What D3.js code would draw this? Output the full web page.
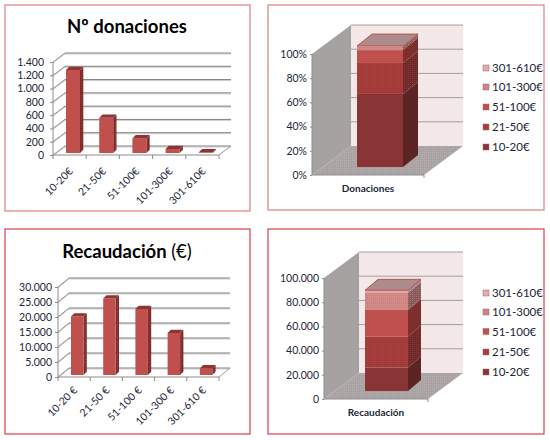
<!DOCTYPE html>
<html lang="en">
<head>
<meta charset="UTF-8">
<title>Donaciones y recaudación</title>
<script src="https://cdnjs.cloudflare.com/ajax/libs/d3/7.8.5/d3.min.js"></script>
<style>
  html, body { margin: 0; padding: 0; background: #fff; }
  svg { display: block; font-family: Lato, "Noto Sans", sans-serif; }
  text { fill: #1b2738; }
</style>
</head>
<body>
<div id="chart"></div>
<script>
// datos
const rangos = ["10-20€", "21-50€", "51-100€", "101-300€", "301-610€"];
const rangosEsp = ["10-20 €", "21-50 €", "51-100 €", "101-300 €", "301-610 €"];
const numDonaciones = [1250, 530, 220, 60, 10];
const recaudacion = [19500, 25500, 22000, 14000, 2200];
const ticksDonaciones = [0, 200, 400, 600, 800, 1000, 1200, 1400];
const ticksRecaudacion = [0, 5000, 10000, 15000, 20000, 25000, 30000];
const ticksPct = [0, 0.2, 0.4, 0.6, 0.8, 1];
const ticksTotal = [0, 20000, 40000, 60000, 80000, 100000];

const esLocale = d3.formatLocale({ decimal: ",", thousands: ".", grouping: [3], currency: ["", "€"] });
const fmtNum = esLocale.format(",d");
const fmtPct = d3.format(".0%");

const svg = d3.select("#chart").append("svg").attr("width", 550).attr("height", 440);

// texturas punteadas de las caras
const defs = svg.append("defs");
function dots(id, bg, dot) {
  const p = defs.append("pattern").attr("id", id).attr("width", 2).attr("height", 2)
    .attr("patternUnits", "userSpaceOnUse");
  p.append("rect").attr("width", 2).attr("height", 2).attr("fill", bg);
  p.append("rect").attr("width", 1).attr("height", 1).attr("fill", dot);
}
dots("dotSide", "#8a3331", "#6b2725");
dots("dotFloor", "#a8a3a3", "#b9adad");
dots("dot2", "#a83e3b", "#983634");
dots("dot2s", "#6e2a29", "#853534");
dots("dot4", "#d08583", "#d6938f");
dots("dot4s", "#8a5a5a", "#9a7676");
dots("wall", "#f3e7e7", "#f5ebeb");

const pts = a => a.map(p => p.join(",")).join(" ");

function marco(x, y, w, h, color) {
  svg.append("rect").attr("x", x).attr("y", y).attr("width", w).attr("height", h)
    .attr("fill", "#fff").attr("stroke", color).attr("stroke-width", 1.2);
}

// rejilla 3d comun: pared izquierda, suelo y lineas
function caja(g, o, y, ticks, relleno) {
  const { x0, x1, dx, dy } = o;
  const y0 = y.range()[0], yT = y.range()[1];
  if (relleno) {
    g.append("polygon").attr("fill", "#a6a2a2")
      .attr("points", pts([[x0, y0], [x0, yT], [x0 + dx, yT - dy], [x0 + dx, y0 - dy]]));
    g.append("polygon").attr("fill", "url(#wall)")
      .attr("points", pts([[x0 + dx, y0 - dy], [x0 + dx, yT - dy], [x1 + dx, yT - dy], [x1 + dx, y0 - dy]]));
    g.append("polygon").attr("fill", "url(#dotFloor)")
      .attr("points", pts([[x0, y0], [x0 + dx, y0 - dy], [x1 + dx, y0 - dy], [x1, y0]]));
  }
  ticks.forEach(t => {
    const yy = y(t);
    if (relleno && t === 0) return;
    if (!relleno) {
      g.append("line").attr("x1", x0).attr("y1", yy + 1).attr("x2", x0 + dx).attr("y2", yy - dy + 1)
        .attr("stroke", "#d4d4d4");
      g.append("line").attr("x1", x0 + dx).attr("y1", yy - dy + 1).attr("x2", x1 + dx).attr("y2", yy - dy + 1)
        .attr("stroke", "#cfcfcf");
      g.append("line").attr("x1", x0).attr("y1", yy).attr("x2", x0 + dx).attr("y2", yy - dy)
        .attr("stroke", "#8c8c8c");
    }
    g.append("line").attr("x1", x0 + dx).attr("y1", yy - dy).attr("x2", x1 + dx).attr("y2", yy - dy)
      .attr("stroke", relleno ? "#a0a0a0" : "#7f7f7f");
  });
  if (!relleno) {
    g.append("line").attr("x1", x1).attr("y1", y0).attr("x2", x1 + dx).attr("y2", y0 - dy).attr("stroke", "#9a9a9a");
  }
  g.append("line").attr("x1", x0).attr("y1", y0).attr("x2", x1).attr("y2", y0).attr("stroke", "#8c8c8c");
  g.append("line").attr("x1", x0).attr("y1", y0).attr("x2", x0).attr("y2", yT).attr("stroke", "#8c8c8c");
}

function ejeY(g, o, y, ticks, fmt) {
  const ax = g.append("g").attr("transform", `translate(${o.x0},0)`)
    .call(d3.axisLeft(y).tickValues(ticks).tickFormat(fmt).tickSize(o.tick).tickPadding(o.pad));
  ax.select(".domain").remove();
  ax.selectAll("line").attr("stroke", "#8c8c8c");
  ax.selectAll("text").attr("font-size", o.font).style("fill", "#1b2738").attr("font-family", "Lato");
}

function prisma(g, x, w, yTop, yBot, ddx, ddy, cf, cs, ct, stroke) {
  g.append("polygon").attr("fill", cs)
    .attr("points", pts([[x + w, yBot], [x + w, yTop], [x + w + ddx, yTop - ddy], [x + w + ddx, yBot - ddy]]));
  g.append("rect").attr("x", x).attr("y", yTop).attr("width", w).attr("height", yBot - yTop).attr("fill", cf);
  if (ct) {
    g.append("polygon").attr("fill", ct).attr("stroke", stroke || "none").attr("stroke-width", 0.8)
      .attr("points", pts([[x, yTop], [x + ddx, yTop - ddy], [x + w + ddx, yTop - ddy], [x + w, yTop]]));
  }
}

// barras 3d sueltas
function barras3d(o) {
  marco(o.box[0], o.box[1], o.box[2], o.box[3], o.borde);
  const g = svg.append("g");
  const y = d3.scaleLinear().domain([0, d3.max(o.ticks)]).range([o.y0, o.yT]);
  const x = d3.scaleBand().domain(o.cats).range([o.x0, o.x1]);
  caja(g, o, y, o.ticks, false);

  o.values.forEach((v, i) => {
    const bx = x(o.cats[i]) + o.barOff;
    const yb = o.y0 - o.barLift;
    prisma(g, bx, o.barW, yb - (o.y0 - y(v)), yb, o.bd, o.bd, "#c0504d", "url(#dotSide)", "#8e3533");
  });

  // marcas del eje x en los limites de cada categoria
  o.cats.concat([null]).forEach((c, i) => {
    const xx = c === null ? o.x1 : x(c);
    g.append("line").attr("x1", xx).attr("x2", xx).attr("y1", o.y0).attr("y2", o.y0 + 4).attr("stroke", "#8c8c8c");
  });
  o.cats.forEach(c => {
    g.append("text").attr("text-anchor", "end").attr("font-size", o.font)
      .attr("transform", `translate(${x(c) + x.bandwidth() / 2 + 4},${o.y0 + o.labelDy}) rotate(-45)`)
      .text(c);
  });
  ejeY(g, o, y, o.ticks, fmtNum);

  const t = g.append("text").attr("x", o.titleX).attr("y", o.titleY).attr("text-anchor", "middle")
    .attr("font-size", o.titleSize).attr("font-weight", 700).style("fill", "#000");
  t.append("tspan").text(o.title);
  if (o.titleExtra) t.append("tspan").attr("font-weight", 400).text(o.titleExtra);
}

// columna apilada 3d
const estilos = [
  { f: "#8a3535", s: "#5c2423" },
  { f: "url(#dot2)", s: "url(#dot2s)" },
  { f: "#c0504d", s: "#7e2f2d" },
  { f: "url(#dot4)", s: "url(#dot4s)" },
  { f: "#e2aaa8", s: "#a98a8a" }
];
const swatch = ["#8a3535", "#a83e3b", "#c0504d", "#cf8482", "#e2aaa8"];

function apilada(o) {
  marco(o.box[0], o.box[1], o.box[2], o.box[3], o.borde);
  const g = svg.append("g");
  const y = d3.scaleLinear().domain([0, d3.max(o.ticks)]).range([o.y0, o.yT]);
  const x = d3.scaleBand().domain([o.cat]).range([o.x0, o.x1]);
  caja(g, o, y, o.ticks, true);

  const fila = {};
  rangos.forEach((r, i) => { fila[r] = o.values[i]; });
  const stack = d3.stack().keys(rangos);
  if (o.expand) stack.offset(d3.stackOffsetExpand);
  const capas = stack([fila]);

  const bx = x(o.cat) + o.barOff;
  capas.forEach((c, i) => {
    const yb = y(c[0][0]) - o.barLift, yt = y(c[0][1]) - o.barLift;
    const ultimo = i === capas.length - 1;
    prisma(g, bx, o.barW, yt, yb, o.bdx, o.bdy, estilos[i].f, estilos[i].s, ultimo ? "#ab8b8b" : null, "#b5403d");
  });

  ejeY(g, o, y, o.ticks, o.expand ? fmtPct : fmtNum);
  g.append("line").attr("x1", o.x1).attr("x2", o.x1).attr("y1", o.y0).attr("y2", o.y0 + 3).attr("stroke", "#8c8c8c");

  g.append("text").attr("x", (o.x0 + o.x1) / 2 + o.catShift).attr("y", o.y0 + 17).attr("text-anchor", "middle")
    .attr("font-size", 10).attr("font-weight", 700).text(o.cat);

  rangos.forEach((r, i) => {
    const ly = o.legY[i];
    g.append("rect").attr("x", o.legX).attr("y", ly - 3).attr("width", 6).attr("height", 6)
      .attr("fill", swatch[i]).attr("stroke", "#9c6a6a").attr("stroke-width", 0.5);
    g.append("text").attr("x", o.legX + 9).attr("y", ly + 4).attr("font-size", 11.5).text(r);
  });
}

barras3d({
  box: [5, 5, 245, 206], borde: "#dc7f84",
  title: "Nº donaciones", titleX: 127, titleY: 33, titleSize: 18.5,
  cats: rangos, values: numDonaciones, ticks: ticksDonaciones,
  x0: 53, x1: 219, y0: 155, yT: 62, dx: 12, dy: 9,
  barOff: 13, barW: 14, barLift: 2, bd: 3.3,
  tick: 3, pad: 6, font: 10.5, labelDy: 17
});

apilada({
  box: [268, 5, 276, 205], borde: "#dc7f84",
  cat: "Donaciones", catShift: 0, values: numDonaciones, ticks: ticksPct, expand: true,
  x0: 312, x1: 424, y0: 175, yT: 54, dx: 39, dy: 29,
  barOff: 45, barW: 46, barLift: 8, bdx: 15, bdy: 12,
  tick: 2, pad: 3, font: 10.5,
  legX: 483, legY: [147, 127, 107, 87, 68]
});

barras3d({
  box: [5, 229, 245, 205], borde: "#d2434c",
  title: "Recaudación ", titleExtra: "(€)", titleX: 127, titleY: 258, titleSize: 18.5,
  cats: rangosEsp, values: recaudacion, ticks: ticksRecaudacion,
  x0: 58, x1: 219, y0: 377, yT: 287, dx: 11, dy: 9,
  barOff: 13, barW: 12.5, barLift: 2, bd: 3.3,
  tick: 3, pad: 3, font: 10.5, labelDy: 14
});

apilada({
  box: [268, 229, 276, 205], borde: "#d2434c",
  cat: "Recaudación", catShift: 0, values: recaudacion, ticks: ticksTotal, expand: false,
  x0: 324, x1: 428, y0: 399, yT: 278, dx: 35, dy: 26,
  barOff: 41, barW: 43, barLift: 8, bdx: 13, bdy: 11,
  tick: 2, pad: 3, font: 10.5,
  legX: 483, legY: [372, 352, 331.5, 312, 293]
});
</script>
</body>
</html>
